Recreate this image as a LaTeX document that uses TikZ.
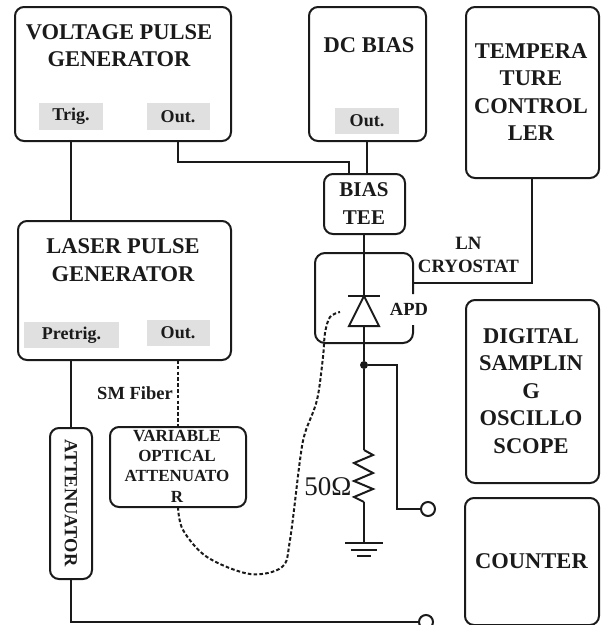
\documentclass[tikz,border=0pt]{standalone}
\usepackage{fontspec}
\setmainfont{Liberation Serif}
\definecolor{ink}{HTML}{1A1A1A}
\definecolor{tag}{HTML}{E0E0E0}
\tikzset{
  box/.style={draw=ink,line width=2pt,rounded corners=9pt,inner sep=0pt,outer sep=0pt,anchor=north west},
  tagbox/.style={fill=tag,inner sep=0pt,outer sep=0pt,font=\fontsize{18}{20}\selectfont\bfseries,text=ink},
  big/.style={font=\fontsize{22.5}{27.5}\selectfont\bfseries,align=center,text=ink,inner sep=0pt},
  mid/.style={font=\fontsize{21}{28}\selectfont\bfseries,align=center,text=ink,inner sep=0pt},
  small/.style={font=\fontsize{17}{20.4}\selectfont\bfseries,align=center,text=ink,inner sep=0pt},
  note/.style={font=\fontsize{18.5}{24}\selectfont\bfseries,align=center,text=ink,inner sep=0pt},
  wire/.style={draw=ink,line width=2pt},
  fiber/.style={draw=ink,line width=2pt,dash pattern=on 3.6pt off 2.2pt},
  term/.style={circle,draw=ink,line width=2pt,minimum size=14pt,inner sep=0pt,outer sep=0pt,fill=white},
}
\begin{document}
\begin{tikzpicture}[x=1pt,y=-1pt]
\useasboundingbox (0,0) rectangle (608,625);
\clip (0,0) rectangle (608,625);
% boxes
\node[box,minimum width=216pt,minimum height=134pt] (vpg) at (15,7) {};
\node[box,minimum width=117pt,minimum height=134pt] (dc) at (309,7) {};
\node[box,minimum width=133pt,minimum height=171pt] (temp) at (466,7) {};
\node[box,minimum width=213pt,minimum height=139pt] (laser) at (18,221) {};
\node[box,minimum width=81pt,minimum height=60pt] (tee) at (324,174) {};
\node[box,minimum width=133pt,minimum height=183pt] (dso) at (466,300) {};
\node[box,minimum width=134pt,minimum height=127pt] (counter) at (465,498) {};
\node[box,minimum width=42pt,minimum height=151pt] (att) at (50,428) {};
\node[box,minimum width=136pt,minimum height=80pt] (voa) at (110,427) {};
% tags
\node[tagbox,minimum width=64pt,minimum height=27pt] (trig) at (71,116.5) {Trig.};
\node[tagbox,minimum width=63pt,minimum height=27pt] (out1) at (178,116.5) {Out.};
\node[tagbox,minimum width=64pt,minimum height=26pt] (out2) at (367,121) {Out.};
\node[tagbox,minimum width=95pt,minimum height=26pt] (pretrig) at (71.5,335) {Pretrig.};
\node[tagbox,minimum width=63pt,minimum height=26pt] (out3) at (178,333) {Out.};
% labels
\node[big] (lvpg) at (119,45.5) {VOLTAGE PULSE\\GENERATOR};
\node[big] (ldc) at (369,45) {DC BIAS};
\node[big] (ltemp) at (531,92) {TEMPERA\\TURE\\CONTROL\\LER};
\node[big] (llaser) at (123,260) {LASER PULSE\\GENERATOR};
\node[mid] (ltee) at (364,204) {BIAS\\TEE};
\node[big] (ldso) at (531,391) {DIGITAL\\SAMPLIN\\G\\OSCILLO\\SCOPE};
\node[big] (lcounter) at (531.5,561.5) {COUNTER};
\node[note,rotate=-90] (latt) at (71,503) {ATTENUATOR};
\node[small] (lvoa) at (177,466) {VARIABLE\\OPTICAL\\ATTENUATO\\R};
\node[note] (lsm) at (135,393) {SM Fiber};
\node[font=\fontsize{18.8}{23}\selectfont\bfseries,align=center,text=ink,inner sep=0pt] (lcry) at (468.5,255) {LN\\CRYOSTAT};
\node[note] (lapd) at (409,309) {APD};
\node[font=\fontsize{27}{29}\selectfont,text=ink,inner sep=0pt] (lohm) at (328,487) {50Ω};
% cryostat outline (open on the right beside APD)
\coordinate (cryA) at (413,294);
\coordinate (cryB) at (413,325);
\coordinate (cryOut) at (413,283);
\draw[wire,rounded corners=10pt] (cryA) -- (413,253) -- (315,253) -- (315,343) -- (413,343) -- (cryB);
% diode and resistor points
\coordinate (dA) at (364,296);
\coordinate (dL) at (349,326);
\coordinate (dR) at (379,326);
\coordinate (dB) at (364,326);
\coordinate (rT) at (364,450);
\coordinate (rB) at (364,502);
\coordinate (gnd) at (364,543);
\node[circle,fill=ink,minimum size=8pt,inner sep=0pt] (jn) at (364,365) {};
\node[term] (t1) at (428,509) {};
\node[term] (t2) at (426,622) {};
% connectors
\draw[wire] (trig.center |- vpg.south) -- (trig.center |- laser.north);
\draw[wire] (out1.center |- vpg.south) |- (349,162) -- (349,174);
\draw[wire] (out2.center |- dc.south) -- (out2.center |- tee.north);
\draw[wire] (dA |- tee.south) -- (dA);
\draw[wire] (cryOut) -| (temp.south -| 532,0);
\draw[wire] (348,296) -- (380,296);
\draw[wire,line join=miter] (dA) -- (dL) -- (dR) -- cycle;
\draw[wire] (dB) -- (jn);
\draw[wire] (jn) -- (rT);
\draw[wire,line join=miter] (rT) -- (373,455) -- (354,463) -- (373,473) -- (354,481) -- (373,489) -- (354,497) -- (rB);
\draw[wire] (rB) -- (gnd);
\draw[wire] (345,543) -- (383,543);
\draw[wire] (351,550) -- (377,550);
\draw[wire] (357,556) -- (371,556);
\draw[wire] (jn) -| (397,509) -- (t1.west);
\draw[wire] (trig.center |- att.north) -- (trig.center |- laser.south);
\draw[wire] (trig.center |- att.south) |- (t2.west);
% fibre
\draw[fiber] (out3.center |- laser.south) -- (out3.center |- voa.north);
\draw[fiber] plot[smooth,tension=.55] coordinates {(178,507) (183,530) (207,557) (250,574) (282,567) (290,540) (300,460) (305,433) (317,400) (323,357) (325,333) (330,317) (340,312)};
\end{tikzpicture}
\end{document}
